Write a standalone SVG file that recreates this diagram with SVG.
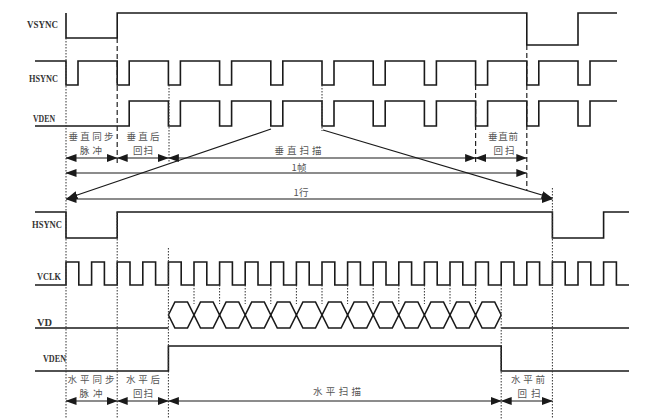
<svg xmlns="http://www.w3.org/2000/svg" width="648" height="419" viewBox="0 0 648 419">
<defs>
<style>
.sig{fill:none;stroke:#1a1a1a;stroke-width:1.6;stroke-linejoin:miter}
.dot{fill:none;stroke:#333;stroke-width:1;stroke-dasharray:1.5 1.5}
.dash{fill:none;stroke:#222;stroke-width:1.2;stroke-dasharray:5 3}
.arr{fill:none;stroke:#1a1a1a;stroke-width:1.2;marker-end:url(#ah)}
.arr2{fill:none;stroke:#1a1a1a;stroke-width:1.2;marker-start:url(#ah);marker-end:url(#ah)}
.lbl{font-family:"Liberation Serif","DejaVu Serif",serif;font-size:11px;fill:#333;font-weight:bold}
.cn{font-family:"Noto Sans CJK SC",sans-serif;font-size:9.5px;fill:#555;text-anchor:middle}
</style>
<marker id="ah" markerUnits="userSpaceOnUse" markerWidth="11" markerHeight="9" refX="10.5" refY="4" orient="auto-start-reverse" viewBox="0 0 11 8">
<path d="M0,0 L11,4 L0,8 z" fill="#1a1a1a"/>
</marker>
</defs>
<rect width="648" height="419" fill="#fff"/>

<g id="vsync-top">
<text class="lbl" x="27" y="28" textLength="31" lengthAdjust="spacingAndGlyphs">VSYNC</text>
<path class="sig" d="M66,13 V38 H117.2 V13 H526.8 V45 H578 V13 H617"/>
</g>
<g id="hsync-top">
<text class="lbl" x="29" y="82" textLength="29" lengthAdjust="spacingAndGlyphs">HSYNC</text>
<path class="sig" d="M35,61 H66 V85 H78 V61 H117.2 V85 H129.2 V61 H168.4 V85 H180.4 V61 H219.6 V85 H231.6 V61 H270.8 V85 H282.8 V61 H322 V85 H334 V61 H373.2 V85 H385.2 V61 H424.4 V85 H436.4 V61 H475.6 V85 H487.6 V61 H526.8 V85 H538.8 V61 H578 V85 H590 V61 H617"/>
</g>
<g id="vden-top">
<text class="lbl" x="33" y="122" textLength="22" lengthAdjust="spacingAndGlyphs">VDEN</text>
<path class="sig" d="M35,126 H129.2 V101 H168.4 V126 H180.4 V101 H219.6 V126 H231.6 V101 H270.8 V126 H282.8 V101 H322 V126 H334 V101 H373.2 V126 H385.2 V101 H424.4 V126 H436.4 V101 H475.6 V126 H487.6 V101 H526.8 V126 H538.8 V101 H578 V126 H590 V101 H617"/>
</g>

<g id="hsync-bottom">
<text class="lbl" x="32" y="228" textLength="30" lengthAdjust="spacingAndGlyphs">HSYNC</text>
<path class="sig" d="M35,212 H66 V238 H117.2 V212 H552.4 V238 H603.6 V212 H629"/>
</g>
<g id="vclk">
<text class="lbl" x="37" y="280" textLength="24" lengthAdjust="spacingAndGlyphs">VCLK</text>
<path class="sig" d="M35,285 H66 V262 H78.8 V285 H91.6 V262 H104.4 V285 H117.2 V262 H130 V285 H142.8 V262 H155.6 V285 H168.4 V262 H181.2 V285 H194 V262 H206.8 V285 H219.6 V262 H232.4 V285 H245.2 V262 H258 V285 H270.8 V262 H283.6 V285 H296.4 V262 H309.2 V285 H322 V262 H334.8 V285 H347.6 V262 H360.4 V285 H373.2 V262 H386 V285 H398.8 V262 H411.6 V285 H424.4 V262 H437.2 V285 H450 V262 H462.8 V285 H475.6 V262 H488.4 V285 H501.2 V262 H514 V285 H526.8 V262 H539.6 V285 H552.4 V262 H565.2 V285 H578 V262 H590.8 V285 H603.6 V262 H616.4 V285 H629"/>
</g>
<g id="vd">
<text class="lbl" x="37" y="326" textLength="15" lengthAdjust="spacingAndGlyphs">VD</text>
<path class="sig" d="M35,328 H168.4 M501.2,328 H629"/>
<path class="sig" d="M168.4,315 L174.9,302 H187.5 L194,315 L200.5,302 H213.1 L219.6,315 L226.1,302 H238.7 L245.2,315 L251.7,302 H264.3 L270.8,315 L277.3,302 H289.9 L296.4,315 L302.9,302 H315.5 L322,315 L328.5,302 H341.1 L347.6,315 L354.1,302 H366.7 L373.2,315 L379.7,302 H392.3 L398.8,315 L405.3,302 H417.9 L424.4,315 L430.9,302 H443.5 L450,315 L456.5,302 H469.1 L475.6,315 L482.1,302 H494.7 L501.2,315"/>
<path class="sig" d="M168.4,315 L174.9,328 H187.5 L194,315 L200.5,328 H213.1 L219.6,315 L226.1,328 H238.7 L245.2,315 L251.7,328 H264.3 L270.8,315 L277.3,328 H289.9 L296.4,315 L302.9,328 H315.5 L322,315 L328.5,328 H341.1 L347.6,315 L354.1,328 H366.7 L373.2,315 L379.7,328 H392.3 L398.8,315 L405.3,328 H417.9 L424.4,315 L430.9,328 H443.5 L450,315 L456.5,328 H469.1 L475.6,315 L482.1,328 H494.7 L501.2,315"/>
</g>
<g id="vden-bottom">
<text class="lbl" x="43" y="362" textLength="23" lengthAdjust="spacingAndGlyphs">VDEN</text>
<path class="sig" d="M35,371 H168.4 V346 H501.2 V371 H629"/>
</g>

<g id="guides">
<path class="dot" d="M66,38 V419 M169,85 V163 M322,85 V131 M552.4,188 V419 M117.2,212 V419 M168.4,248 V419 M501.2,285 V419"/>
<path class="dash" d="M117.2,38 V165 M475.6,85 V165 M526.8,45 V190"/>
<path class="dot" d="M194,285 V304 M219.6,285 V304 M245.2,285 V304 M270.8,285 V304 M296.4,285 V304 M322,285 V304 M347.6,285 V304 M373.2,285 V304 M398.8,285 V304 M424.4,285 V304 M450,285 V304 M475.6,285 V304"/>
</g>

<g id="connectors">
<path class="arr2" d="M66,158 H117.2"/>
<path class="arr2" d="M117.2,158 H168.4"/>
<path class="arr2" d="M168.4,158 H475.6"/>
<path class="arr2" d="M475.6,158 H526.8"/>
<path class="arr2" d="M66,173 H526.8"/>
<path class="arr2" d="M66,199 H552.4"/>
<path class="arr" d="M271,129 L67,198.5"/>
<path class="arr" d="M323,130 L552,198"/>
<path class="arr2" d="M66,401 H117.2"/>
<path class="arr2" d="M117.2,401 H168.4"/>
<path class="arr2" d="M168.4,401 H501.2"/>
<path class="arr2" d="M501.2,401 H552.4"/>
</g>

<g id="labels-top">
<text class="cn"><tspan x="91" y="140" textLength="45" lengthAdjust="spacing">垂直同步</tspan><tspan x="91" y="154" textLength="22" lengthAdjust="spacing">脉冲</tspan></text>
<text class="cn"><tspan x="143" y="140" textLength="33" lengthAdjust="spacing">垂直后</tspan><tspan x="143" y="154" textLength="20" lengthAdjust="spacing">回扫</tspan></text>
<text class="cn" x="298" y="154" textLength="47" lengthAdjust="spacing">垂直扫描</text>
<text class="cn"><tspan x="503" y="140" textLength="30" lengthAdjust="spacing">垂直前</tspan><tspan x="504" y="154" textLength="21" lengthAdjust="spacing">回扫</tspan></text>
<text class="cn" x="299" y="171">1帧</text>
<text class="cn" x="301" y="196">1行</text>
</g>
<g id="labels-bottom">
<text class="cn"><tspan x="91" y="383" textLength="47" lengthAdjust="spacing">水平同步</tspan><tspan x="91" y="397" textLength="23" lengthAdjust="spacing">脉冲</tspan></text>
<text class="cn"><tspan x="143" y="383" textLength="34" lengthAdjust="spacing">水平后</tspan><tspan x="143" y="397" textLength="20" lengthAdjust="spacing">回扫</tspan></text>
<text class="cn" x="337" y="395" textLength="48" lengthAdjust="spacing">水平扫描</text>
<text class="cn"><tspan x="528" y="383" textLength="34" lengthAdjust="spacing">水平前</tspan><tspan x="529" y="397" textLength="23" lengthAdjust="spacing">回扫</tspan></text>
</g>
</svg>
